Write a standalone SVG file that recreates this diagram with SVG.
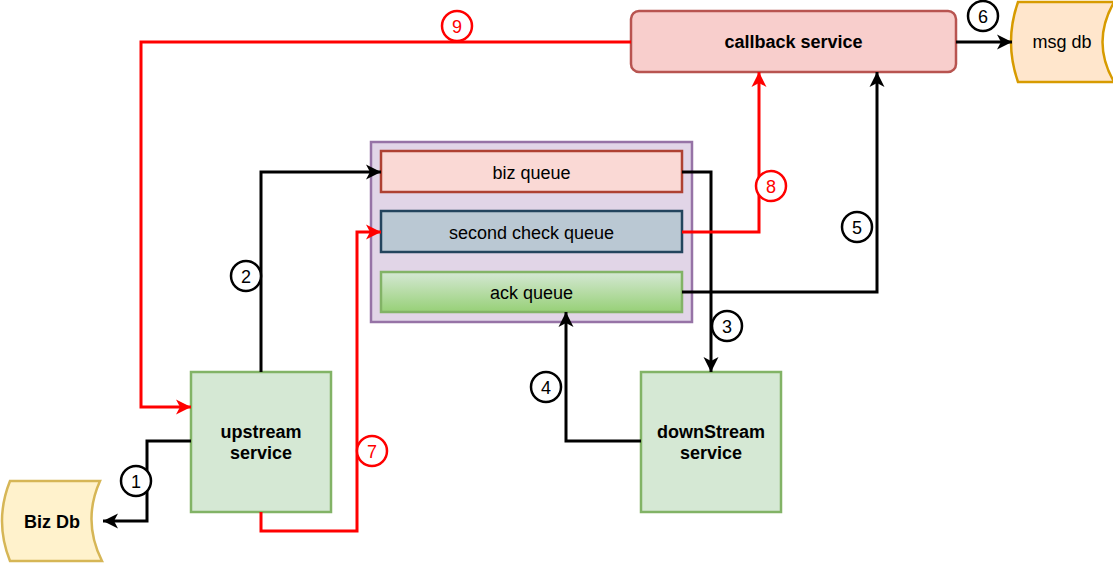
<svg xmlns="http://www.w3.org/2000/svg" width="1113" height="563" viewBox="0 0 1113 563">
<style>
text{font-family:"Liberation Sans",Arial,Helvetica,sans-serif;font-size:18px;text-anchor:middle;fill:#000}
.b{font-weight:bold}
.c{fill:none;stroke-width:3;stroke-linejoin:miter}
.k{stroke:#000}
.r{stroke:#ff0000}
.nc{fill:#fff;stroke-width:2.5}
.rt{fill:#ff0000}
</style>
<defs>
<marker id="ak" markerUnits="userSpaceOnUse" markerWidth="17" markerHeight="17" viewBox="0 0 17 17" refX="16" refY="8.5" orient="auto"><path d="M1,1 L16,8.5 L1,16 L5,8.5 Z" fill="#000"/></marker>
<marker id="ar" markerUnits="userSpaceOnUse" markerWidth="17" markerHeight="17" viewBox="0 0 17 17" refX="16" refY="8.5" orient="auto"><path d="M1,1 L16,8.5 L1,16 L5,8.5 Z" fill="#ff0000"/></marker>
<linearGradient id="gack" x1="0" y1="0" x2="0" y2="1"><stop offset="0" stop-color="#d5e8d4"/><stop offset="1" stop-color="#97d077"/></linearGradient>
</defs>

<g id="queues">
<rect x="371" y="142" width="321" height="180" fill="#e1d5e7" stroke="#9673a6" stroke-width="2.5"/>
</g>
<g id="bizqueue">
<rect x="381" y="151" width="301" height="41" fill="#fad9d5" stroke="#ae4132" stroke-width="2.5"/>
<text x="531.5" y="178.5">biz queue</text>
</g>
<g id="secondcheck">
<rect x="381" y="211" width="301" height="41" fill="#bac8d3" stroke="#23445d" stroke-width="2.5"/>
<text x="531.5" y="238.5">second check queue</text>
</g>
<g id="ackqueue">
<rect x="381" y="272" width="301" height="40" fill="url(#gack)" stroke="#82b366" stroke-width="2.5"/>
<text x="531.5" y="298.5">ack queue</text>
</g>

<g id="callback">
<rect x="631" y="11" width="325" height="61" rx="8" fill="#f8cecc" stroke="#b85450" stroke-width="2.5"/>
<text class="b" x="793.5" y="48">callback service</text>
</g>
<g id="msgdb">
<path d="M1018,2 H1114 Q1091,42 1114,82 H1018 Q1004,42 1018,2 Z" fill="#ffe6cc" stroke="#d79b00" stroke-width="2.5"/>
<text x="1062" y="48">msg db</text>
</g>
<g id="upstream">
<rect x="191" y="372" width="140" height="140" fill="#d5e8d4" stroke="#82b366" stroke-width="2.5"/>
<text class="b" x="261" y="438">upstream</text>
<text class="b" x="261" y="459">service</text>
</g>
<g id="downstream">
<rect x="641" y="372" width="140" height="140" fill="#d5e8d4" stroke="#82b366" stroke-width="2.5"/>
<text class="b" x="711" y="438">downStream</text>
<text class="b" x="711" y="459">service</text>
</g>
<g id="bizdb">
<path d="M10,481 H100 Q82,521 102,561 H10 Q-6,521 10,481 Z" fill="#fff2cc" stroke="#d6b656" stroke-width="2.5"/>
<text class="b" x="52" y="528">Biz Db</text>
</g>

<g id="connectors">
<path class="c k" d="M191,441 H147 V521 H103" marker-end="url(#ak)"/>
<path class="c k" d="M261,372 V172 H381" marker-end="url(#ak)"/>
<path class="c k" d="M682,172 H711 V372" marker-end="url(#ak)"/>
<path class="c k" d="M641,441 H566 V312" marker-end="url(#ak)"/>
<path class="c k" d="M682,292 H877 V72" marker-end="url(#ak)"/>
<path class="c k" d="M956,42 H1012" marker-end="url(#ak)"/>
<path class="c r" d="M261,512 V531 H357 V232 H381" marker-end="url(#ar)"/>
<path class="c r" d="M682,232 H759 V72" marker-end="url(#ar)"/>
<path class="c r" d="M631,42 H141 V407 H191" marker-end="url(#ar)"/>

<g id="n1"><circle class="nc" cx="136" cy="481" r="15" stroke="#000"/><text x="136" y="487.5">1</text></g>
<g id="n2"><circle class="nc" cx="246" cy="276" r="15" stroke="#000"/><text x="246" y="282.5">2</text></g>
<g id="n3"><circle class="nc" cx="727" cy="326" r="15" stroke="#000"/><text x="727" y="332.5">3</text></g>
<g id="n4"><circle class="nc" cx="546" cy="387" r="15" stroke="#000"/><text x="546" y="393.5">4</text></g>
<g id="n5"><circle class="nc" cx="857" cy="227" r="15" stroke="#000"/><text x="857" y="233.5">5</text></g>
<g id="n6"><circle class="nc" cx="983" cy="16" r="15" stroke="#000"/><text x="983" y="22.5">6</text></g>
<g id="n7"><circle class="nc" cx="372" cy="451" r="15" stroke="#ff0000"/><text class="rt" x="372" y="457.5">7</text></g>
<g id="n8"><circle class="nc" cx="771" cy="186" r="15" stroke="#ff0000"/><text class="rt" x="771" y="192.5">8</text></g>
<g id="n9"><circle class="nc" cx="457" cy="26" r="15" stroke="#ff0000"/><text class="rt" x="457" y="32.5">9</text></g>
</g>
</svg>
